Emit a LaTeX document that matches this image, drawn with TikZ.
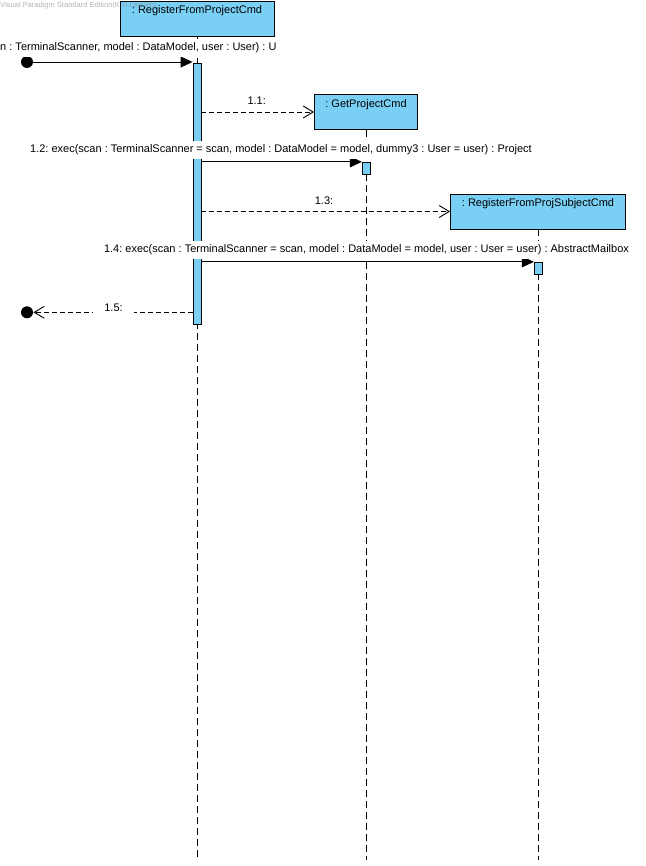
\documentclass[tikz,border=0pt]{standalone}
\usepackage{fontspec}
\setmainfont{Liberation Sans}
\usetikzlibrary{arrows.meta}
\definecolor{vpblue}{RGB}{122,207,245}
\frenchspacing
\begin{document}
\begin{tikzpicture}[x=1pt, y=-1pt, line width=.9pt, font=\fontsize{11}{13}\selectfont,
  lifebox/.style={draw, fill=vpblue, inner sep=0pt},
  boxtitle/.style={anchor=north, inner sep=0pt, yshift=-5pt},
  actbar/.style={draw, fill=vpblue, minimum width=8pt, inner sep=0pt},
  lifeline/.style={dash pattern=on 7pt off 4pt},
  call/.style={-{Triangle[length=12pt,width=11pt]}},
  reply/.style={dash pattern=on 5pt off 3pt, -{Straight Barb[length=10pt,width=12pt]}},
  msglabel/.style={fill=white, inner xsep=1pt, inner ysep=3.5pt},
  enddot/.style={circle, fill, inner sep=0pt, minimum size=12pt}]
\useasboundingbox (0,0) rectangle (645,866);
\coordinate (bottom) at (0,860);

\node[lifebox, minimum width=154pt, minimum height=35pt] (rfp) at (197,18.5) {};
\node[boxtitle] (rfpt) at (rfp.north) {: RegisterFromProjectCmd};
\node[anchor=west, inner sep=0pt, font=\fontsize{7.5}{9}\selectfont, text=gray, opacity=.6] (wm) at (0,6) {Visual Paradigm Standard Edition(K.U.Leuven)};
\node[lifebox, minimum width=103pt, minimum height=35pt] (gpc) at (366,112) {};
\node[boxtitle] (gpct) at (gpc.north) {: GetProjectCmd};
\node[lifebox, minimum width=175pt, minimum height=35pt] (rfps) at (538,211.5) {};
\node[boxtitle] (rfpst) at (rfps.north) {: RegisterFromProjSubjectCmd};

\foreach \b in {rfp,gpc,rfps}
{
    \draw[lifeline] (\b.south) -- (\b.south |- bottom);
}

\node[actbar, minimum height=261pt] (a1) at (197,193.5) {};
\node[actbar, minimum height=12pt] (a2) at (366.3,168.3) {};
\node[actbar, minimum height=12pt] (a3) at (538.3,268.3) {};
\node[enddot] (found) at (27,62) {};
\node[enddot] (lost) at (27,312.3) {};

\draw[call] (found) -- (a1.west |- found);
\draw[reply] (a1.east |- gpc) -- (gpc.west);
\draw[call] (a1.east |- a2.north) -- (a2.north west);
\draw[reply] (a1.east |- rfps) -- (rfps.west);
\draw[call] (a1.east |- a3.north) -- (a3.north west);
\draw[reply] (a1.west |- lost) -- (lost);

\node[msglabel, anchor=east] (l1) at (278,48) {n : TerminalScanner, model : DataModel, user : User) : U};
\node[msglabel] (l11) at (256.7,101) {1.1:};
\node[msglabel] (l12) at (281,150) {1.2: exec(scan : TerminalScanner = scan, model : DataModel = model, dummy3 : User = user) : Project};
\node[msglabel] (l13) at (324,201) {1.3:};
\node[msglabel] (l14) at (366.5,250) {1.4: exec(scan : TerminalScanner = scan, model : DataModel = model, user : User = user) : AbstractMailbox};
\node[msglabel, inner xsep=11pt] (l15) at (113.5,307.5) {1.5:};
\end{tikzpicture}
\end{document}
